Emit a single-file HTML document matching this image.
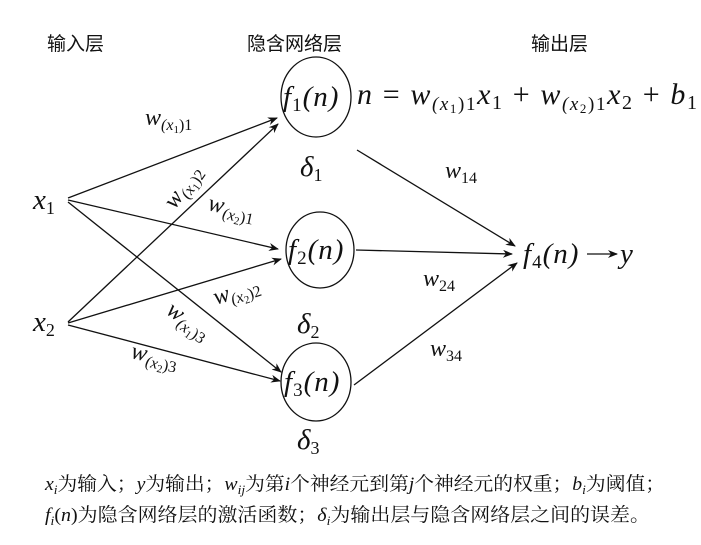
<!DOCTYPE html>
<html><head><meta charset="utf-8"><style>
html,body{margin:0;padding:0;background:#fff}
svg text{font-family:"Liberation Serif","Noto Serif CJK SC",serif;fill:#111}
.m{font-style:italic}
.cn{font-family:"Liberation Sans","Noto Sans CJK SC",sans-serif;font-size:19px}
</style></head><body>
<svg width="701" height="540" viewBox="0 0 701 540" xmlns="http://www.w3.org/2000/svg">
<defs><marker id="a" markerWidth="10" markerHeight="8" refX="9" refY="4" orient="auto" markerUnits="userSpaceOnUse"><path d="M0,0 L10,4 L0,8 L3,4z" fill="#111"/></marker></defs>
<g stroke="#111" stroke-width="1.3" fill="none">
<ellipse cx="316" cy="97" rx="35" ry="40"/>
<ellipse cx="320" cy="250" rx="34" ry="38"/>
<ellipse cx="316" cy="382" rx="35" ry="39"/>
<g marker-end="url(#a)">
<line x1="68" y1="198" x2="277" y2="118"/>
<line x1="68" y1="200" x2="278" y2="249"/>
<line x1="68" y1="202" x2="281" y2="372"/>
<line x1="68" y1="322" x2="278" y2="124"/>
<line x1="68" y1="323" x2="281" y2="259"/>
<line x1="68" y1="325" x2="280" y2="381"/>
<line x1="357" y1="150" x2="515" y2="246"/>
<line x1="356" y1="250" x2="512" y2="254"/>
<line x1="354" y1="385" x2="517" y2="263"/>
<line x1="587" y1="254" x2="617" y2="254"/>
</g></g>
<text class="cn" x="47" y="50">输入层</text>
<text class="cn" x="247" y="50">隐含网络层</text>
<text class="cn" x="531" y="50">输出层</text>
<g font-size="29">
<text class="m" x="283" y="106" letter-spacing="1">f<tspan font-size="19" dy="5" font-style="normal">1</tspan><tspan dy="-5">(n)</tspan></text>
<text class="m" x="288" y="259" letter-spacing="1">f<tspan font-size="19" dy="5" font-style="normal">2</tspan><tspan dy="-5">(n)</tspan></text>
<text class="m" x="284" y="391" letter-spacing="1">f<tspan font-size="19" dy="5" font-style="normal">3</tspan><tspan dy="-5">(n)</tspan></text>
<text class="m" x="523" y="263" letter-spacing="1">f<tspan font-size="19" dy="5" font-style="normal">4</tspan><tspan dy="-5">(n)</tspan></text>
<text class="m" x="620" y="263">y</text>
<text class="m" x="33" y="209">x<tspan font-size="18" dy="5" font-style="normal">1</tspan></text>
<text class="m" x="33" y="331">x<tspan font-size="18" dy="5" font-style="normal">2</tspan></text>
<text class="m" x="357" y="104" font-size="30" letter-spacing="1.6">n <tspan font-style="normal">=</tspan> w<tspan font-size="19" dy="6">(x<tspan font-size="13" dy="3" font-style="normal">1</tspan><tspan dy="-3" font-style="normal">)1</tspan></tspan><tspan dy="-6">x</tspan><tspan font-size="20" dy="5" font-style="normal">1</tspan><tspan dy="-5" font-style="normal"> + </tspan>w<tspan font-size="19" dy="6">(x<tspan font-size="13" dy="3" font-style="normal">2</tspan><tspan dy="-3" font-style="normal">)1</tspan></tspan><tspan dy="-6">x</tspan><tspan font-size="20" dy="5" font-style="normal">2</tspan><tspan dy="-5" font-style="normal"> + </tspan>b<tspan font-size="20" dy="5" font-style="normal">1</tspan></text>
<text class="m" x="300" y="176">δ<tspan font-size="18" dy="5" font-style="normal">1</tspan></text>
<text class="m" x="297" y="333">δ<tspan font-size="18" dy="5" font-style="normal">2</tspan></text>
<text class="m" x="297" y="449">δ<tspan font-size="18" dy="5" font-style="normal">3</tspan></text>
</g>
<g font-size="24">
<text class="m" x="445" y="178">w<tspan font-size="16" dy="5" font-style="normal">14</tspan></text>
<text class="m" x="423" y="286">w<tspan font-size="16" dy="5" font-style="normal">24</tspan></text>
<text class="m" x="430" y="356">w<tspan font-size="16" dy="5" font-style="normal">34</tspan></text>
<text class="m" x="145" y="125">w<tspan font-size="16" dy="5">(x<tspan font-size="11" dy="3" font-style="normal">1</tspan><tspan dy="-3" font-style="normal">)1</tspan></tspan></text>
<text class="m" transform="translate(175,210) rotate(-55)">w<tspan font-size="16" dy="5">(x<tspan font-size="11" dy="3" font-style="normal">1</tspan><tspan dy="-3" font-style="normal">)2</tspan></tspan></text>
<text class="m" transform="translate(207,210) rotate(12)">w<tspan font-size="16" dy="5">(x<tspan font-size="11" dy="3" font-style="normal">2</tspan><tspan dy="-3" font-style="normal">)1</tspan></tspan></text>
<text class="m" transform="translate(216,305) rotate(-18)">w<tspan font-size="16" dy="5">(x<tspan font-size="11" dy="3" font-style="normal">2</tspan><tspan dy="-3" font-style="normal">)2</tspan></tspan></text>
<text class="m" transform="translate(165,313) rotate(35)">w<tspan font-size="16" dy="5">(x<tspan font-size="11" dy="3" font-style="normal">1</tspan><tspan dy="-3" font-style="normal">)3</tspan></tspan></text>
<text class="m" transform="translate(130,358) rotate(12)">w<tspan font-size="16" dy="5">(x<tspan font-size="11" dy="3" font-style="normal">2</tspan><tspan dy="-3" font-style="normal">)3</tspan></tspan></text>
</g>
<g font-size="19">
<text x="45" y="490" textLength="620" lengthAdjust="spacingAndGlyphs"><tspan class="m">x</tspan><tspan class="m" font-size="13" dy="4">i</tspan><tspan dy="-4">为输入；</tspan><tspan class="m">y</tspan>为输出；<tspan class="m">w</tspan><tspan class="m" font-size="13" dy="4">ij</tspan><tspan dy="-4">为第</tspan><tspan class="m">i</tspan>个神经元到第<tspan class="m">j</tspan>个神经元的权重；<tspan class="m">b</tspan><tspan class="m" font-size="13" dy="4">i</tspan><tspan dy="-4">为阈值；</tspan></text>
<text x="45" y="521" textLength="605" lengthAdjust="spacingAndGlyphs"><tspan class="m">f</tspan><tspan class="m" font-size="13" dy="4">i</tspan><tspan dy="-4">(</tspan><tspan class="m">n</tspan>)为隐含网络层的激活函数；<tspan class="m">δ</tspan><tspan class="m" font-size="13" dy="4">i</tspan><tspan dy="-4">为输出层与隐含网络层之间的误差。</tspan></text>
</g>
</svg>
</body></html>
